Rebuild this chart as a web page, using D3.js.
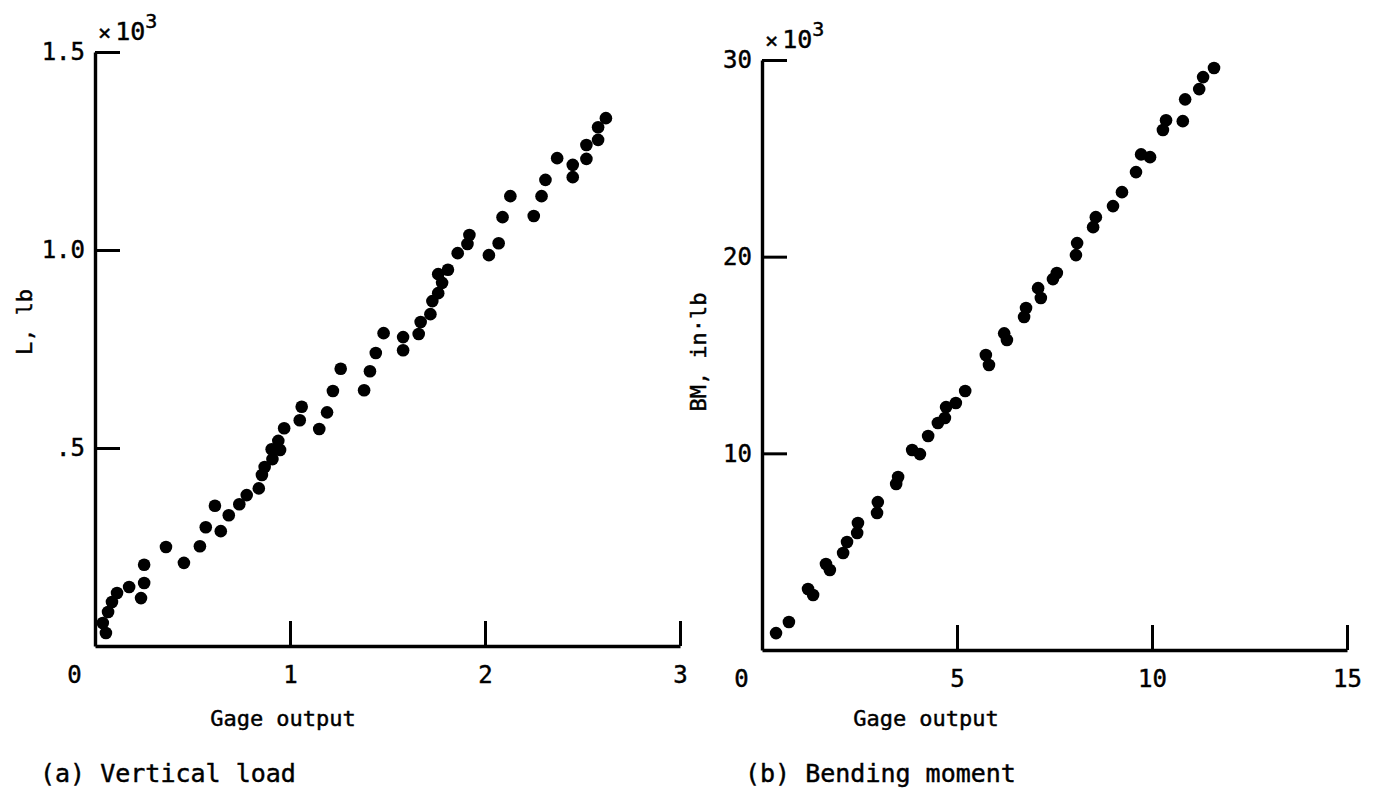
<!DOCTYPE html>
<html>
<head>
<meta charset="utf-8">
<script src="https://cdn.jsdelivr.net/npm/d3@7"></script>
<style>
  html, body { margin: 0; padding: 0; background: #fff; }
  svg { display: block; }
  text { font-family: "DejaVu Sans Mono", "Liberation Mono", monospace; fill: #000; stroke: #000; stroke-width: 0.45px; }
</style>
</head>
<body>
<svg id="chart" width="1377" height="805"></svg>
<script>
// ---- Data: (a) Vertical load, L (x10^3 lb) vs gage output ----
const loadGage = [0.04, 0.056, 0.067, 0.087, 0.113, 0.175, 0.236, 0.252, 0.252, 0.364,
  0.456, 0.538, 0.568, 0.645, 0.615, 0.686, 0.74, 0.778, 0.84, 0.856,
  0.87, 0.91, 0.906, 0.949, 0.94, 0.97, 1.05, 1.06, 1.15, 1.19,
  1.22, 1.26, 1.38, 1.41, 1.44, 1.48, 1.58, 1.58, 1.66, 1.67,
  1.72, 1.73, 1.76, 1.78, 1.76, 1.81, 1.86, 1.91, 1.92, 2.02,
  2.07, 2.09, 2.13, 2.25, 2.29, 2.31, 2.37, 2.45, 2.45, 2.52,
  2.52, 2.58, 2.58, 2.62];
const loadL = [0.058, 0.033, 0.086, 0.111, 0.134, 0.149, 0.121, 0.159, 0.205, 0.25,
  0.21, 0.252, 0.30, 0.29, 0.354, 0.33, 0.358, 0.381, 0.398, 0.432,
  0.452, 0.472, 0.497, 0.495, 0.518, 0.55, 0.57, 0.604, 0.548, 0.59,
  0.644, 0.70, 0.646, 0.694, 0.74, 0.79, 0.78, 0.747, 0.788, 0.818,
  0.838, 0.871, 0.891, 0.917, 0.939, 0.95, 0.992, 1.015, 1.038, 0.987,
  1.017, 1.083, 1.136, 1.086, 1.136, 1.177, 1.232, 1.184, 1.215, 1.23,
  1.265, 1.278, 1.31, 1.333];

// ---- Data: (b) Bending moment, BM (x10^3 in.lb) vs gage output ----
const bmGage = [0.36, 0.69, 1.18, 1.31, 1.64, 1.74, 2.08, 2.18, 2.44, 2.46,
  2.95, 2.97, 3.44, 3.49, 3.85, 4.05, 4.26, 4.51, 4.69, 4.72,
  4.97, 5.21, 5.74, 5.82, 6.21, 6.28, 6.72, 6.77, 7.08, 7.15,
  7.46, 7.56, 8.05, 8.08, 8.49, 8.56, 9.0, 9.23, 9.59, 9.72,
  9.95, 10.28, 10.36, 10.79, 10.85, 11.21, 11.31, 11.59];
const bmBM = [0.86, 1.42, 3.10, 2.80, 4.37, 4.07, 4.93, 5.49, 5.95, 6.46,
  6.97, 7.52, 8.44, 8.80, 10.17, 9.96, 10.88, 11.54, 11.8, 12.35,
  12.56, 13.17, 15.0, 14.49, 16.1, 15.76, 16.93, 17.39, 18.4, 17.9,
  18.86, 19.17, 20.08, 20.69, 21.5, 22.01, 22.57, 23.28, 24.3, 25.2,
  25.06, 26.44, 26.94, 26.89, 28.0, 28.52, 29.13, 29.59];

// ---- Tick values and labels ----
const loadXTicks = [0, 1, 2, 3];
const loadXLabels = ["0", "1", "2", "3"];
const loadYTicks = [0.5, 1.0, 1.5];
const loadYLabels = [".5", "1.0", "1.5"];
const bmXTicks = [0, 5, 10, 15];
const bmXLabels = ["0", "5", "10", "15"];
const bmYTicks = [10, 20, 30];
const bmYLabels = ["10", "20", "30"];

const panels = [
  { xs: loadGage, ys: loadL, xDom: [0, 3], yDom: [0, 1.5], xRange: [95, 680], yRange: [646, 52],
    xT: loadXTicks, xL: loadXLabels, yT: loadYTicks, yL: loadYLabels,
    yTitle: "L, lb", yTitleX: 24, yTitleY: 322, xTitleX: 283, capX: 40, caption: "(a) Vertical load" },
  { xs: bmGage, ys: bmBM, xDom: [0, 15], yDom: [0, 30], xRange: [762, 1347], yRange: [650, 60],
    xT: bmXTicks, xL: bmXLabels, yT: bmYTicks, yL: bmYLabels,
    yTitle: "BM, in\u00b7lb", yTitleX: 698, yTitleY: 352, xTitleX: 926, capX: 745, caption: "(b) Bending moment" }
];

const svg = d3.select("#chart");
svg.append("rect").attr("width", 1377).attr("height", 805).attr("fill", "#fff");

panels.forEach(p => {
  const x = d3.scaleLinear().domain(p.xDom).range(p.xRange);
  const y = d3.scaleLinear().domain(p.yDom).range(p.yRange);
  const g = svg.append("g");

  const xa = g.append("g")
    .attr("transform", `translate(0,${y(0)})`)
    .call(d3.axisBottom(x).tickValues(p.xT).tickSizeOuter(0).tickSizeInner(-25).tickPadding(20)
      .tickFormat((d, i) => p.xL[i]));
  const ya = g.append("g")
    .attr("transform", `translate(${x(0)},0)`)
    .call(d3.axisLeft(y).tickValues(p.yT).tickSizeOuter(0).tickSizeInner(-25).tickPadding(10)
      .tickFormat((d, i) => p.yL[i]));

  [xa, ya].forEach(a => {
    a.select(".domain").attr("stroke", "#000").attr("stroke-width", 3.4);
    a.selectAll(".tick line").attr("stroke", "#000").attr("stroke-width", 3);
    a.selectAll(".tick text").attr("font-size", 24).attr("fill", "#000");
  });
  xa.selectAll(".tick").filter(d => d === 0).select("line").remove();
  xa.selectAll(".tick").filter(d => d === 0).select("text").attr("dx", -21);

  const top = p.yT[p.yT.length - 1];
  const m = g.append("text")
    .attr("x", x(0) + 3).attr("y", y(top) - 12)
    .attr("font-size", 25);
  m.append("tspan").attr("font-size", 22).text("\u00d7");
  m.append("tspan").attr("dx", 4).text("10");
  m.append("tspan").attr("font-size", 20).attr("dy", -12).text("3");

  g.append("g").selectAll("circle")
    .data(p.xs.map((v, i) => [v, p.ys[i]]))
    .join("circle")
    .attr("cx", d => x(d[0]))
    .attr("cy", d => y(d[1]))
    .attr("r", 6.3)
    .attr("fill", "#000");

  g.append("text")
    .attr("transform", `translate(${p.yTitleX},${p.yTitleY}) rotate(-90)`)
    .attr("text-anchor", "middle")
    .attr("dominant-baseline", "central")
    .attr("font-size", 22)
    .text(p.yTitle);
  g.append("text")
    .attr("x", p.xTitleX).attr("y", 726)
    .attr("text-anchor", "middle")
    .attr("font-size", 22)
    .text("Gage output");
  g.append("text")
    .attr("x", p.capX).attr("y", 782)
    .attr("font-size", 25)
    .text(p.caption);
});
</script>
</body>
</html>
